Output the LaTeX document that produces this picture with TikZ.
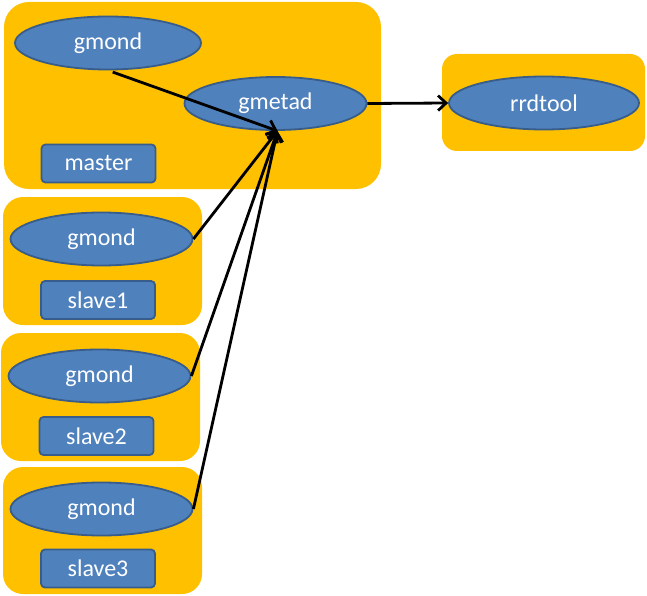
\documentclass[tikz,border=0pt]{standalone}
\usepackage{fontspec}
\setmainfont{Carlito}
\usetikzlibrary{shapes.geometric,arrows.meta}
\definecolor{grporange}{HTML}{FFC000}
\definecolor{nodeblue}{HTML}{4F81BD}
\definecolor{nodeedge}{HTML}{385D8A}

\begin{document}
\begin{tikzpicture}[x=1pt,y=-1pt,
    grp/.style={fill=grporange, rounded corners=#1, inner sep=0pt},
    daemon/.style={draw=nodeedge, line width=1.8pt, fill=nodeblue, ellipse,
        minimum width=182pt, minimum height=53pt, inner sep=0pt,
        text=white, font=\fontsize{24}{27}\selectfont},
    host/.style={draw=nodeedge, line width=1.8pt, fill=nodeblue, rectangle,
        rounded corners=4pt, minimum width=114pt, minimum height=38pt,
        inner sep=0pt, text=white, font=\fontsize{24}{27}\selectfont},
    flow/.style={line width=2.8pt, -{Straight Barb[length=8pt,width=15pt]}}]
\useasboundingbox (0,0) rectangle (647,596);
% groups
\node [grp=25pt, minimum width=377pt, minimum height=187pt] (mastergrp) at (192.5,95.5) {};
\node [grp=15pt, minimum width=203pt, minimum height=97pt] (rrdgrp) at (543.5,102.5) {};
\node [grp=20pt, minimum width=199pt, minimum height=128pt] (slavegrp1) at (102.5,261) {};
\node [grp=20pt, minimum width=199pt, minimum height=128pt] (slavegrp2) at (100.5,397) {};
\node [grp=20pt, minimum width=199pt, minimum height=127pt] (slavegrp3) at (102.5,530.5) {};
% daemons
\node [daemon, minimum width=186pt] (gmond0) at (108,43) {gmond};
\node [daemon] (gmetad) at (275.5,103.5) {gmetad};
\node [daemon, minimum width=190pt] (rrdtool) at (544,103) {rrdtool};
\node [daemon] (gmond1) at (101.5,239) {gmond};
\node [daemon] (gmond2) at (99.5,376) {gmond};
\node [daemon] (gmond3) at (101.5,509) {gmond};
% hosts
\node [host] (master) at (98.5,163.5) {master};
\node [host] (slave1) at (98,300) {slave1};
\node [host] (slave2) at (96.5,436) {slave2};
\node [host] (slave3) at (98,568.5) {slave3};
% arrows
\draw [flow, shorten <=5pt] (gmond0.south) -- ([xshift=2pt]gmetad.south);
\draw [flow] (gmond1.east) -- ([xshift=2pt]gmetad.south);
\draw [flow] (gmond2.east) -- ([xshift=2pt]gmetad.south);
\draw [flow] (gmond3.east) -- ([xshift=2pt]gmetad.south);
\draw [flow] (gmetad.east) -- (rrdtool.west);
\end{tikzpicture}
\end{document}
